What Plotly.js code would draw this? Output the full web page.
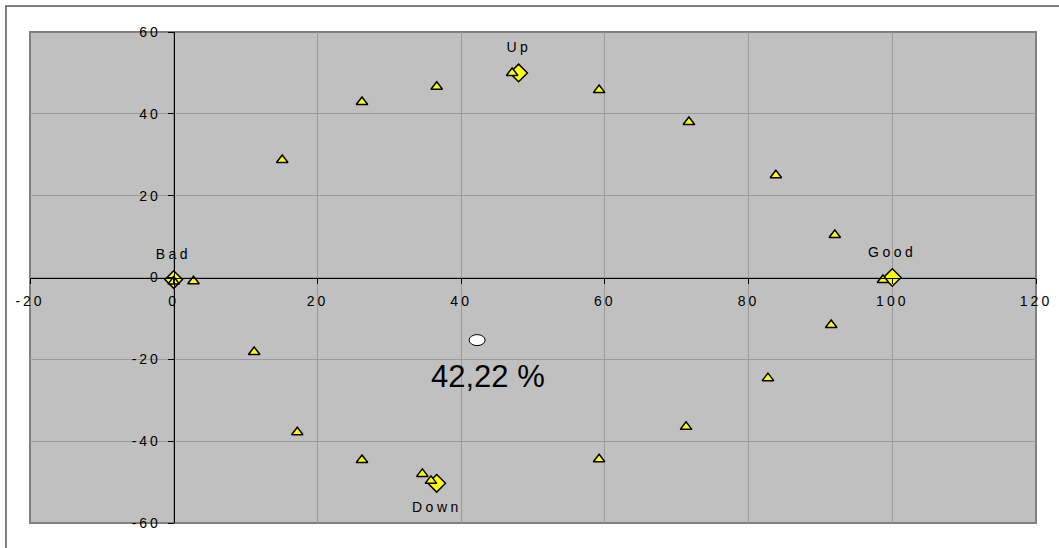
<!DOCTYPE html>
<html>
<head>
<meta charset="utf-8">
<script src="https://cdn.plot.ly/plotly-3.0.1.min.js"></script>
<style>
  html, body { margin: 0; padding: 0; background: #fff; }
  #chart { width: 1059px; height: 548px; }
  .xtick text, .ytick text { letter-spacing: 3px; }
  .annotation:not([data-index="4"]) text { letter-spacing: 3.5px; }
</style>
</head>
<body>
<div id="chart"></div>
<script>
// ---- data ----
const triX = [2.75, 0.0, 11.2, 15.1, 17.2, 26.2, 26.2, 36.6, 34.6, 35.8, 47.1, 59.2, 59.2, 71.7, 71.3, 83.8, 82.7, 92.0, 91.5, 98.7];
const triY = [-0.9, -1.0, -18.2, 28.7, -37.8, 42.9, -44.6, 46.6, -48.0, -49.7, 50.0, 45.8, -44.4, 38.0, -36.5, 25.0, -24.6, 10.4, -11.6, -0.6];
const keyX = [0, 48, 100, 36.6];
const keyY = [-0.5, 50, 0, -50.3];
const keyLabels = ['Bad', 'Up', 'Good', 'Down'];
const meanX = [42.22];
const meanY = [-15.3];
const meanLabels = ['42,22 %'];
const xTickVals = [-20, 0, 20, 40, 60, 80, 100, 120];
const yTickVals = [-60, -40, -20, 0, 20, 40, 60];

// ---- chart ----
const FONT = 'Liberation Sans, Arial, sans-serif';
const xRange = [xTickVals[0], xTickVals[xTickVals.length - 1]];
const yRange = [yTickVals[0], yTickVals[yTickVals.length - 1]];

const traces = [
  {
    type: 'scatter', mode: 'markers', name: 'Key points',
    x: keyX, y: keyY,
    marker: { symbol: 'diamond', size: 13.5, color: '#ffff00', line: { color: '#000', width: 1.5 } },
    hoverinfo: 'x+y'
  },
  {
    type: 'scatter', mode: 'markers', name: 'Points',
    x: triX, y: triY,
    marker: { symbol: 'triangle-up', size: 10, color: '#ffff00', line: { color: '#000', width: 1.5 } },
    hoverinfo: 'x+y'
  }
];

const annotations = keyLabels.map((t, i) => ({
  x: keyX[i], y: keyY[i], xref: 'x', yref: 'y', text: t, showarrow: false,
  yshift: t === 'Down' ? -24 : 26,
  font: { family: FONT, size: 14, color: '#000' }
}));
annotations.push({
  x: meanX[0], y: meanY[0], xref: 'x', yref: 'y', text: meanLabels[0], showarrow: false,
  xshift: 11, yshift: -36,
  font: { family: FONT, size: 31, color: '#000' }
});

const layout = {
  width: 1059, height: 548,
  margin: { l: 30, r: 23, t: 32, b: 25 },
  paper_bgcolor: '#ffffff',
  plot_bgcolor: '#c0c0c0',
  showlegend: false,
  font: { family: FONT, size: 14, color: '#000' },
  xaxis: {
    range: xRange, tickvals: xTickVals, ticktext: xTickVals.map(String),
    anchor: 'free', position: (0 - yRange[0]) / (yRange[1] - yRange[0]),
    showline: true, linecolor: '#000', linewidth: 1,
    ticks: 'outside', ticklen: 5, tickcolor: '#000', tickwidth: 1,
    showgrid: true, gridcolor: '#9a9a9a', gridwidth: 1,
    zeroline: false, tickfont: { family: FONT, size: 14, color: '#000' },
    ticklabelstandoff: 6, fixedrange: true
  },
  yaxis: {
    range: yRange, tickvals: yTickVals, ticktext: yTickVals.map(String),
    anchor: 'free', position: (0 - xRange[0]) / (xRange[1] - xRange[0]),
    showline: true, linecolor: '#000', linewidth: 1,
    ticks: 'outside', ticklen: 6, tickcolor: '#000', tickwidth: 1,
    showgrid: true, gridcolor: '#9a9a9a', gridwidth: 1,
    zeroline: false, tickfont: { family: FONT, size: 14, color: '#000' },
    ticklabelstandoff: 4, fixedrange: true
  },
  shapes: [
    { type: 'rect', xref: 'paper', yref: 'paper', x0: -0.0239, x1: 1.2, y0: -0.3, y1: 1.053,
      line: { color: '#555', width: 1.5 }, fillcolor: 'rgba(0,0,0,0)', layer: 'below' },
    { type: 'rect', xref: 'paper', yref: 'paper', x0: 0, x1: 1, y0: 0, y1: 1,
      line: { color: '#808080', width: 2 }, fillcolor: 'rgba(0,0,0,0)', layer: 'below' },
    { type: 'circle', xref: 'x', yref: 'y', xsizemode: 'pixel', ysizemode: 'pixel',
      xanchor: meanX[0], yanchor: meanY[0], x0: -8, x1: 8, y0: -5.5, y1: 5.5,
      fillcolor: '#ffffff', line: { color: '#000', width: 1 }, layer: 'above' }
  ],
  annotations: annotations
};

Plotly.newPlot('chart', traces, layout, { displayModeBar: false, staticPlot: true });
</script>
</body>
</html>
